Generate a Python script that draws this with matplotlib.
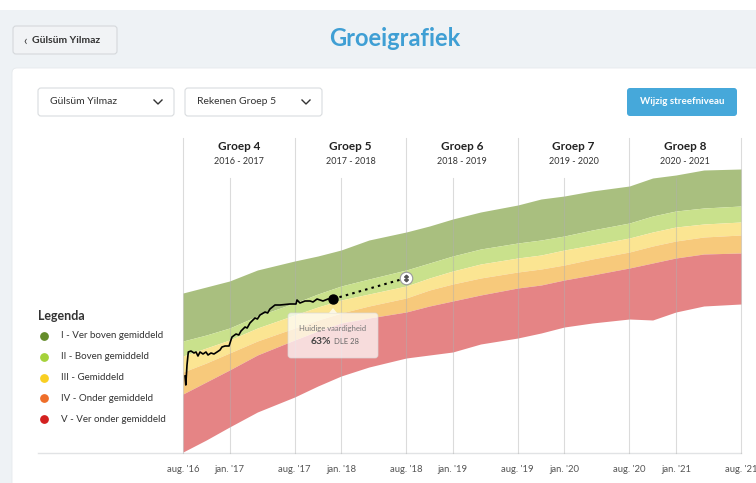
import matplotlib
matplotlib.use('Agg')
import matplotlib.pyplot as plt
from matplotlib.patches import FancyBboxPatch, Rectangle, Polygon

plt.rcParams['font.family'] = ['Lato', 'DejaVu Sans']

# --- data -------------------------------------------------------------
# months since aug. 2016, band boundaries in score units
months = [0, 2.5, 5, 8, 12, 14.5, 17, 20, 24, 26.5, 29, 32, 36, 38.5, 41, 44, 48, 50.5, 53, 56, 60]
band_top = [160, 166, 172, 183, 192, 197, 203, 213, 221, 227, 234, 241, 248, 254, 257, 262, 267, 275, 278, 283, 284]
band_b1 = [112, 118, 125, 137, 150, 159, 167, 174, 183, 190, 197, 204, 210, 213, 217, 223, 230, 237, 242, 245, 247]
band_b2 = [97, 105, 113, 125, 138, 146, 153, 159, 167, 175, 182, 189, 195, 198, 203, 208, 215, 221, 226, 229, 231]
band_b3 = [81, 90, 100, 112, 125, 133, 140, 147, 155, 163, 169, 175, 181, 184, 188, 194, 201, 207, 212, 216, 218]
band_b4 = [59, 71, 83, 98, 113, 122, 130, 135, 141, 147, 152, 158, 165, 168, 173, 178, 185, 190, 195, 199, 200]
band_bot = [1, 13, 26, 41, 56, 67, 77, 86, 95, 98, 101, 109, 115, 120, 126, 130, 134, 133, 141, 147, 149]

student_m = [0.22, 0.30, 0.43, 0.57, 0.86, 1.18, 1.40, 1.61, 1.83, 2.15, 2.47, 2.69, 3.01, 3.33,
             3.66, 3.98, 4.19, 4.52, 4.95, 5.16, 5.27, 5.70, 6.00, 6.24, 6.67, 6.90, 7.20, 7.74,
             8.00, 8.28, 8.82, 9.10, 9.35, 9.89, 10.43, 11.51, 12.15, 12.26, 12.58, 13.12, 13.66,
             13.98, 14.41, 15.05, 15.59, 16.13]
student_v = [77, 68, 88, 101, 102, 100, 101, 97, 101, 99, 101, 98, 100, 99,
             101, 103, 106, 107, 107, 113, 116, 119, 118, 122, 126, 125, 130, 135,
             134, 138, 141, 140, 144, 148, 148, 149, 149, 153, 150, 152, 152,
             151, 154, 152, 154, 154]
target_m, target_v = 24, 175

group_names = ['Groep 4', 'Groep 5', 'Groep 6', 'Groep 7', 'Groep 8']
group_years = ['2016 - 2017', '2017 - 2018', '2018 - 2019', '2019 - 2020', '2020 - 2021']
tick_pos = [0, 5, 12, 17, 24, 29, 36, 41, 48, 53, 60]
tick_labels = ["aug. '16", "jan. '17", "aug. '17", "jan. '18", "aug. '18", "jan. '19",
               "aug. '19", "jan. '20", "aug. '20", "jan. '21", "aug. '21"]

legend_labels = ['I - Ver boven gemiddeld', 'II - Boven gemiddeld', 'III - Gemiddeld',
                 'IV - Onder gemiddeld', 'V - Ver onder gemiddeld']
legend_colors = ['#648c2a', '#a5d23a', '#f9cf22', '#ee6e2a', '#d3201f']
band_colors = ['#a9bf7f', '#c9e18c', '#fbe592', '#f7c97b', '#e58485']

blue = '#3f9fd4'

fig = plt.figure(figsize=(7.56, 4.83), dpi=100, facecolor='#eef2f5')

# background / UI layer in pixel coordinates
bg = fig.add_axes([0, 0, 1, 1], zorder=0)
bg.set_xlim(0, 756)
bg.set_ylim(483, 0)
bg.axis('off')
bg.add_patch(Rectangle((0, 0), 756, 10, color='white', lw=0))
bg.add_patch(FancyBboxPatch((12, 68), 760, 430, boxstyle='round,pad=0,rounding_size=5',
                            fc='white', ec='#e6e9ec', lw=0.6))

# back button
bg.add_patch(FancyBboxPatch((13, 26), 104, 28, boxstyle='round,pad=0,rounding_size=3',
                            fc='#f1f3f5', ec='#d5d8db', lw=0.8))
bg.text(23, 40.5, '‹', fontsize=9, color='#333333', va='center', ha='left')
bg.text(32, 40.5, 'Gülsüm Yilmaz', fontsize=7.5, color='#333333', va='center', ha='left',
        fontweight='bold')
bg.text(395, 38, 'Groeigrafiek', fontsize=17, color=blue, va='center', ha='center',
        fontweight='bold')

# dropdowns
for x0, w, label in [(38, 136, 'Gülsüm Yilmaz'), (185, 137, 'Rekenen Groep 5')]:
    bg.add_patch(FancyBboxPatch((x0, 88), w, 28, boxstyle='round,pad=0,rounding_size=3',
                                fc='white', ec='#d9dcdf', lw=0.8))
    bg.text(x0 + 12, 102, label, fontsize=7.5, color='#333333', va='center', ha='left')
    cx = x0 + w - 16
    bg.plot([cx - 4, cx, cx + 4], [100, 104, 100], color='#333333', lw=1)

bg.add_patch(FancyBboxPatch((627, 88), 110, 28, boxstyle='round,pad=0,rounding_size=3',
                            fc='#46a8da', ec='none'))
bg.text(682, 102, 'Wijzig streefniveau', fontsize=7, color='white', va='center',
        ha='center', fontweight='bold')

# baseline
bg.plot([38, 741], [453, 453], color='#e1e3e5', lw=1)

# legend
bg.text(38, 316, 'Legenda', fontsize=9, color='#333333', va='center', ha='left',
        fontweight='bold')
for i, (lab, col) in enumerate(zip(legend_labels, legend_colors)):
    yy = 336 + i * 20.8
    bg.scatter([44], [yy], s=28, color=col, zorder=3)
    bg.text(61, yy, lab, fontsize=7, color='#333333', va='center', ha='left')

# --- chart ------------------------------------------------------------
ax = fig.add_axes([183 / 756, 30 / 483, 558 / 756, 315 / 483], zorder=1)
ax.patch.set_alpha(0)
ax.set_xlim(0, 60)
ax.set_ylim(0, 315)
for s in ax.spines.values():
    s.set_visible(False)

bounds = [band_top, band_b1, band_b2, band_b3, band_b4, band_bot]
for i, col in enumerate(band_colors):
    ax.fill_between(months, bounds[i + 1], bounds[i], color=col, lw=0, zorder=1)

for i, m in enumerate([0, 12, 24, 36, 48, 60]):
    ax.plot([m, m], [0, 315], color='#b0b0b0', alpha=0.45, lw=0.8, zorder=2, clip_on=False)
for m in [5, 17, 29, 41, 53]:
    ax.plot([m, m], [0, 275], color='#b0b0b0', alpha=0.45, lw=0.8, zorder=2, clip_on=False)

for i in range(5):
    xc = 6 + 12 * i
    ax.text(xc, 306, group_names[i], fontsize=8.5, fontweight='bold', color='#222222',
            ha='center', va='center')
    ax.text(xc, 292, group_years[i], fontsize=6.5, color='#333333', ha='center', va='center')

ax.plot(student_m, student_v, color='black', lw=1.2, zorder=4)
ax.plot([student_m[-1], target_m], [student_v[-1], target_v], color='black', lw=1.5,
        linestyle=(0, (1.2, 2)), zorder=4)
ax.plot(student_m[-1], student_v[-1], 'o', color='black', ms=6.5, zorder=5)
ax.plot(target_m, target_v, 'o', mfc='white', mec='#9a9a9a', mew=0.8, ms=9, zorder=5)
ax.plot(target_m, target_v, marker=r'$\updownarrow$', color='#555555', ms=4.5, zorder=6)

ax.set_xticks(tick_pos)
ax.set_xticklabels(tick_labels, fontsize=6.8, color='#555555')
ax.tick_params(axis='x', length=0, pad=9)
ax.set_yticks([])

# --- tooltip overlay ------------------------------------------------------
top = fig.add_axes([0, 0, 1, 1], zorder=3)
top.set_xlim(0, 756)
top.set_ylim(483, 0)
top.axis('off')
top.patch.set_alpha(0)
top.add_patch(FancyBboxPatch((288, 313), 90, 45, boxstyle='round,pad=0,rounding_size=3',
                             fc=(1, 1, 1, 0.72), ec=(0.85, 0.85, 0.85, 0.8), lw=0.6))
top.add_patch(Polygon([[329, 313], [333, 308], [337, 313]], closed=True,
                      fc=(1, 1, 1, 0.72), ec='none'))
top.text(333, 329, 'Huidige vaardigheid', fontsize=5.5, color='#777777', ha='center',
         va='center')
top.text(331, 342, '63%', fontsize=7.5, fontweight='bold', color='#444444', ha='right',
         va='center')
top.text(334, 342, 'DLE 28', fontsize=5.5, color='#666666', ha='left', va='center')

plt.savefig('out.png', dpi=100, facecolor=fig.get_facecolor())
